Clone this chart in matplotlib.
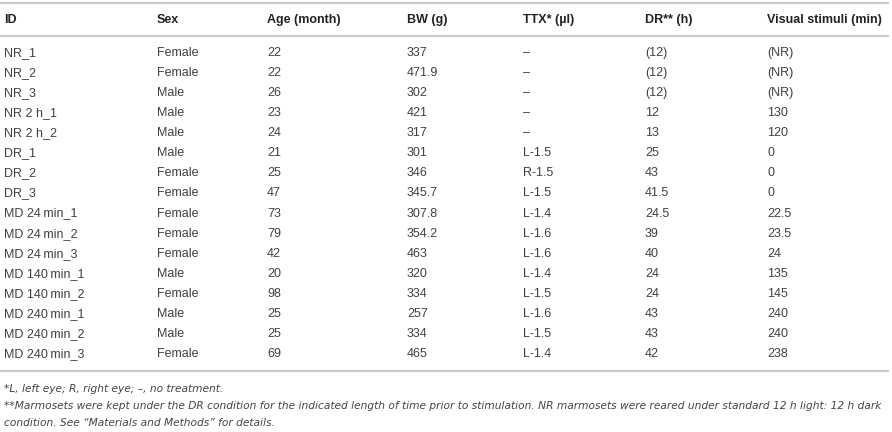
import matplotlib
matplotlib.use("Agg")
import matplotlib.pyplot as plt
from matplotlib.lines import Line2D

headers = ["ID", "Sex", "Age (month)", "BW (g)", "TTX* (\u00b5l)", "DR** (h)", "Visual stimuli (min)"]

ids = ["NR_1", "NR_2", "NR_3", "NR 2 h_1", "NR 2 h_2", "DR_1", "DR_2", "DR_3",
       "MD 24\u2009min_1", "MD 24\u2009min_2", "MD 24\u2009min_3", "MD 140\u2009min_1",
       "MD 140\u2009min_2", "MD 240\u2009min_1", "MD 240\u2009min_2", "MD 240\u2009min_3"]
sex = ["Female", "Female", "Male", "Male", "Male", "Male", "Female", "Female",
       "Female", "Female", "Female", "Male", "Female", "Male", "Male", "Female"]
age = ["22", "22", "26", "23", "24", "21", "25", "47",
       "73", "79", "42", "20", "98", "25", "25", "69"]
bw = ["337", "471.9", "302", "421", "317", "301", "346", "345.7",
      "307.8", "354.2", "463", "320", "334", "257", "334", "465"]
ttx = ["\u2013", "\u2013", "\u2013", "\u2013", "\u2013", "L-1.5", "R-1.5", "L-1.5",
       "L-1.4", "L-1.6", "L-1.6", "L-1.4", "L-1.5", "L-1.6", "L-1.5", "L-1.4"]
dr = ["(12)", "(12)", "(12)", "12", "13", "25", "43", "41.5",
      "24.5", "39", "40", "24", "24", "43", "43", "42"]
visual = ["(NR)", "(NR)", "(NR)", "130", "120", "0", "0", "0",
          "22.5", "23.5", "24", "135", "145", "240", "240", "238"]

footnotes = [
    "*L, left eye; R, right eye; \u2013, no treatment.",
    "**Marmosets were kept under the DR condition for the indicated length of time prior to stimulation. "
    "NR marmosets were reared under standard 12 h light: 12 h dark",
    "condition. See \u201cMaterials and Methods\u201d for details.",
]

W, H = 892, 432
fig = plt.figure(figsize=(W / 100, H / 100), dpi=100)
fig.patch.set_facecolor("white")

def px(x, y):
    return x / W, 1 - y / H

def hline(y):
    x0, y0 = px(0, y)
    x1, _ = px(888, y)
    fig.add_artist(Line2D([x0, x1], [y0, y0], transform=fig.transFigure,
                          color="#cccccc", lw=1.6))

col_x = [4, 157, 267, 407, 523, 645, 767]
font = "Liberation Sans"
fs = 9.0

hline(3)
hline(36)
hline(371)

for x, h in zip(col_x, headers):
    fig.text(*px(x, 20), h, fontsize=fs, fontweight="bold", color="#222222",
             family=font, va="center", ha="left")

columns = [ids, sex, age, bw, ttx, dr, visual]
row_y0, row_dy = 53, 20.07
for i in range(len(ids)):
    y = row_y0 + i * row_dy
    for x, col in zip(col_x, columns):
        fig.text(*px(x, y), col[i], fontsize=fs, color="#404040",
                 family=font, va="center", ha="left")

for y, t in zip([389, 406, 423], footnotes):
    fig.text(*px(4, y), t, fontsize=7.62, style="italic", color="#444444",
             family="Liberation Sans Narrow", va="center", ha="left")

fig.savefig("out.png", dpi=100)
